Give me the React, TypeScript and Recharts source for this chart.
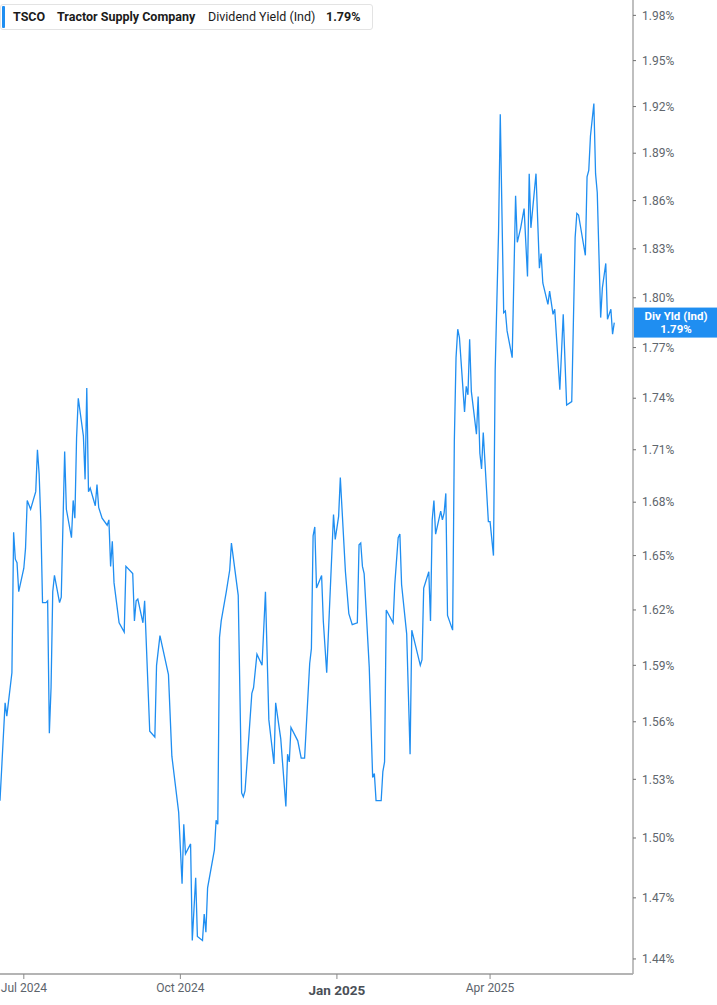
import React from "react"
import { LineChart, Line, XAxis, YAxis, ReferenceLine } from "recharts"

const dates = [
  "2024-06-17", "2024-06-20", "2024-06-21", "2024-06-24", "2024-06-25", "2024-06-26", "2024-06-27", "2024-06-28",
  "2024-07-01", "2024-07-02", "2024-07-03", "2024-07-05", "2024-07-08", "2024-07-09", "2024-07-10", "2024-07-11",
  "2024-07-12", "2024-07-14", "2024-07-15", "2024-07-16", "2024-07-17", "2024-07-18", "2024-07-19", "2024-07-22",
  "2024-07-23", "2024-07-25", "2024-07-26", "2024-07-29", "2024-07-30", "2024-07-31", "2024-08-01", "2024-08-02",
  "2024-08-05", "2024-08-06", "2024-08-07", "2024-08-08", "2024-08-09", "2024-08-12", "2024-08-13", "2024-08-14",
  "2024-08-16", "2024-08-19", "2024-08-20", "2024-08-21", "2024-08-22", "2024-08-23", "2024-08-26", "2024-08-29",
  "2024-08-30", "2024-09-03", "2024-09-04", "2024-09-05", "2024-09-06", "2024-09-09", "2024-09-10", "2024-09-13",
  "2024-09-16", "2024-09-17", "2024-09-19", "2024-09-24", "2024-09-26", "2024-09-30", "2024-10-02", "2024-10-03",
  "2024-10-04", "2024-10-07", "2024-10-08", "2024-10-10", "2024-10-11", "2024-10-14", "2024-10-15", "2024-10-16",
  "2024-10-17", "2024-10-21", "2024-10-22", "2024-10-23", "2024-10-24", "2024-10-25", "2024-10-28", "2024-10-30",
  "2024-10-31", "2024-11-04", "2024-11-06", "2024-11-07", "2024-11-08", "2024-11-10", "2024-11-12", "2024-11-13",
  "2024-11-15", "2024-11-18", "2024-11-20", "2024-11-22", "2024-11-25", "2024-11-26", "2024-11-29", "2024-12-02",
  "2024-12-03", "2024-12-04", "2024-12-05", "2024-12-09", "2024-12-11", "2024-12-13", "2024-12-16", "2024-12-17",
  "2024-12-18", "2024-12-19", "2024-12-20", "2024-12-23", "2024-12-24", "2024-12-26", "2024-12-30", "2024-12-31",
  "2025-01-02", "2025-01-03", "2025-01-06", "2025-01-08", "2025-01-10", "2025-01-13", "2025-01-14", "2025-01-15",
  "2025-01-16", "2025-01-17", "2025-01-20", "2025-01-22", "2025-01-23", "2025-01-24", "2025-01-27", "2025-01-28",
  "2025-01-29", "2025-01-30", "2025-02-03", "2025-02-04", "2025-02-06", "2025-02-07", "2025-02-08", "2025-02-11",
  "2025-02-13", "2025-02-14", "2025-02-19", "2025-02-20", "2025-02-21", "2025-02-24", "2025-02-25", "2025-02-26",
  "2025-02-27", "2025-02-28", "2025-03-03", "2025-03-04", "2025-03-05", "2025-03-06", "2025-03-07", "2025-03-10",
  "2025-03-11", "2025-03-12", "2025-03-13", "2025-03-14", "2025-03-17", "2025-03-18", "2025-03-19", "2025-03-20",
  "2025-03-21", "2025-03-24", "2025-03-25", "2025-03-26", "2025-03-27", "2025-03-28", "2025-03-31", "2025-04-01",
  "2025-04-03", "2025-04-04", "2025-04-06", "2025-04-07", "2025-04-09", "2025-04-10", "2025-04-11", "2025-04-14",
  "2025-04-16", "2025-04-17", "2025-04-19", "2025-04-21", "2025-04-23", "2025-04-24", "2025-04-25", "2025-04-28",
  "2025-04-30", "2025-05-01", "2025-05-02", "2025-05-05", "2025-05-06", "2025-05-08", "2025-05-09", "2025-05-12",
  "2025-05-14", "2025-05-16", "2025-05-19", "2025-05-21", "2025-05-22", "2025-05-23", "2025-05-27", "2025-05-28",
  "2025-05-29", "2025-05-30", "2025-06-01", "2025-06-02", "2025-06-03", "2025-06-05", "2025-06-06", "2025-06-08",
  "2025-06-09", "2025-06-11", "2025-06-12", "2025-06-13",
]

// dividend yield (indicated), in percent
const yields = [
  1.519, 1.57, 1.563, 1.586, 1.663, 1.648, 1.646, 1.63,
  1.643, 1.654, 1.681, 1.676, 1.686, 1.71, 1.696, 1.669,
  1.624, 1.624, 1.625, 1.554, 1.578, 1.63, 1.639, 1.624,
  1.627, 1.709, 1.676, 1.66, 1.681, 1.671, 1.717, 1.74,
  1.718, 1.693, 1.746, 1.686, 1.688, 1.678, 1.69, 1.677,
  1.671, 1.667, 1.67, 1.644, 1.658, 1.635, 1.613, 1.608,
  1.644, 1.64, 1.614, 1.625, 1.626, 1.613, 1.625, 1.555,
  1.552, 1.59, 1.606, 1.585, 1.542, 1.513, 1.477, 1.507,
  1.492, 1.497, 1.449, 1.48, 1.451, 1.449, 1.462, 1.453,
  1.475, 1.494, 1.509, 1.507, 1.605, 1.614, 1.63, 1.642,
  1.657, 1.628, 1.523, 1.521, 1.524, 1.549, 1.575, 1.578,
  1.596, 1.59, 1.63, 1.561, 1.538, 1.57, 1.551, 1.516,
  1.543, 1.539, 1.557, 1.55, 1.541, 1.541, 1.591, 1.599,
  1.661, 1.666, 1.632, 1.639, 1.614, 1.586, 1.673, 1.659,
  1.672, 1.694, 1.641, 1.618, 1.612, 1.613, 1.656, 1.657,
  1.644, 1.64, 1.589, 1.531, 1.533, 1.519, 1.519, 1.534,
  1.539, 1.62, 1.613, 1.634, 1.66, 1.662, 1.634, 1.607,
  1.543, 1.609, 1.59, 1.593, 1.632, 1.641, 1.614, 1.67,
  1.681, 1.662, 1.675, 1.67, 1.674, 1.685, 1.617, 1.609,
  1.715, 1.764, 1.781, 1.776, 1.732, 1.747, 1.742, 1.775,
  1.744, 1.719, 1.741, 1.708, 1.699, 1.72, 1.669, 1.669,
  1.65, 1.756, 1.841, 1.915, 1.791, 1.792, 1.78, 1.764,
  1.863, 1.834, 1.843, 1.855, 1.813, 1.877, 1.843, 1.877,
  1.818, 1.827, 1.809, 1.796, 1.804, 1.79, 1.793, 1.745,
  1.79, 1.736, 1.738, 1.837, 1.852, 1.851, 1.826, 1.875,
  1.879, 1.901, 1.922, 1.877, 1.865, 1.788, 1.806, 1.821,
  1.787, 1.793, 1.778, 1.785,
]

const xTickDates = ["2024-07-01", "2024-10-01", "2025-01-01", "2025-04-01"]
const xTickLabels = ["Jul 2024", "Oct 2024", "Jan 2025", "Apr 2025"]
const yTicks = [1.44, 1.47, 1.5, 1.53, 1.56, 1.59, 1.62, 1.65, 1.68, 1.71, 1.74, 1.77, 1.8, 1.83, 1.86, 1.89, 1.92, 1.95, 1.98]

const ticker = "TSCO"
const company = "Tractor Supply Company"
const metric = "Dividend Yield (Ind)"
const shortMetric = "Div Yld (Ind)"
const lastYield = 1.79

const toTs = (d: string) => Date.parse(d + "T00:00:00Z")
const data = dates.map((d, i) => ({ t: toTs(d), v: yields[i] }))
const xTicks = xTickDates.map(toTs)

const BLUE = "#1f8ef1"
const FONT = "Roboto, 'Noto Sans', sans-serif"

function XTick(props: any) {
  const { x, y, payload } = props
  const i = xTicks.indexOf(payload.value)
  const label = xTickLabels[i] ?? ""
  const major = label.startsWith("Jan")
  return (
    <text
      x={x}
      y={y + (major ? 16 : 13)}
      textAnchor="middle"
      fontFamily={FONT}
      fontSize={major ? 13.5 : 12}
      fontWeight={major ? 700 : 400}
      fill={major ? "#4a4f57" : "#5c636b"}
    >
      {label}
    </text>
  )
}

function LastTag(props: any) {
  const vb = props.viewBox || {}
  const x = (vb.x ?? 0) + (vb.width ?? 0) + 1
  const y = vb.y ?? 0
  return (
    <g>
      <rect x={x} y={y - 15} width={84} height={30} fill={BLUE} />
      <text x={x + 42} y={y - 3} textAnchor="middle" fontFamily={FONT} fontSize={11.5} fontWeight={700} fill="#fff">
        {shortMetric}
      </text>
      <text x={x + 42} y={y + 10} textAnchor="middle" fontFamily={FONT} fontSize={11.5} fontWeight={700} fill="#fff">
        {lastYield.toFixed(2)}%
      </text>
    </g>
  )
}

export default function App() {
  return (
    <div style={{ position: "absolute", left: 0, top: 0, width: 717, height: 1005, background: "#fff" }}>
      <LineChart width={717} height={1005} data={data} margin={{ top: 0, right: 0, bottom: 0, left: 0 }}>
        <XAxis
          dataKey="t"
          type="number"
          scale="time"
          domain={[toTs("2024-06-17"), toTs("2025-06-24")]}
          allowDataOverflow
          ticks={xTicks}
          interval={0}
          height={31}
          axisLine={{ stroke: "#b4b4b4", strokeWidth: 2 }}
          tickLine={{ stroke: "#8a8a8a" }}
          tickSize={5}
          tickMargin={0}
          tick={<XTick />}
        />
        <YAxis
          orientation="right"
          type="number"
          scale="log"
          domain={[1.4327, 1.9903]}
          allowDataOverflow
          ticks={yTicks}
          interval={0}
          width={84}
          axisLine={{ stroke: "#aaaaaa", strokeWidth: 1.5 }}
          tickLine={{ stroke: "#707070" }}
          tickSize={3}
          tickMargin={6}
          tickFormatter={(v: number) => `${v.toFixed(2)}%`}
          tick={{ fontFamily: FONT, fontSize: 12, fill: "#60666d", textAnchor: "start" }}
        />
        <Line
          type="linear"
          dataKey="v"
          stroke={BLUE}
          strokeWidth={1.3}
          dot={false}
          activeDot={false}
          isAnimationActive={false}
        />
        <ReferenceLine y={yields[yields.length - 1]} strokeOpacity={0} label={(p: any) => <LastTag {...p} />} />
      </LineChart>
      <div
        style={{
          position: "absolute",
          left: 0,
          top: 4,
          width: 373,
          height: 26,
          boxSizing: "border-box",
          border: "1px solid #e3e3e3",
          borderRadius: 3,
          background: "#fff",
          fontFamily: FONT,
          fontSize: 12.5,
          color: "#1b1b1b",
        }}
      >
        <div style={{ position: "absolute", left: 1, top: 1, width: 3, height: 22, background: BLUE, borderRadius: 1 }} />
        <span style={{ position: "absolute", left: 12, top: 4, fontWeight: 700 }}>{ticker}</span>
        <span style={{ position: "absolute", left: 56, top: 4, fontWeight: 700 }}>{company}</span>
        <span style={{ position: "absolute", left: 207, top: 4 }}>{metric}</span>
        <span style={{ position: "absolute", left: 325, top: 4, fontWeight: 700 }}>{lastYield.toFixed(2)}%</span>
      </div>
    </div>
  )
}
